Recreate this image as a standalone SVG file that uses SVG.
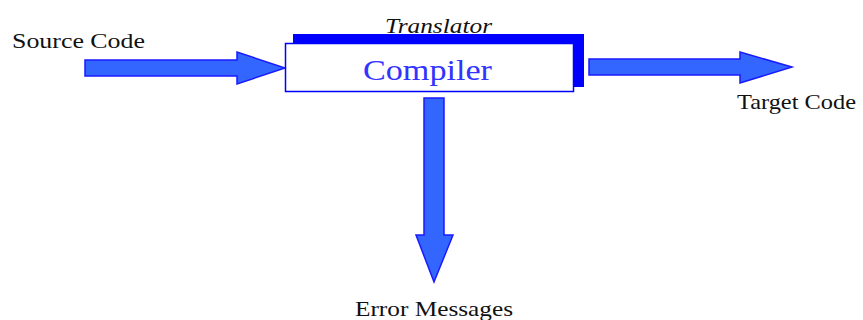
<svg xmlns="http://www.w3.org/2000/svg" width="863" height="320" viewBox="0 0 863 320">
<style>
.lbl{font-family:"Liberation Serif","Times New Roman",serif;font-size:22px;fill:#111}
.arrow{fill:#3366ff;stroke:#1a1aff;stroke-width:1.5;stroke-linejoin:miter}
</style>
<rect width="863" height="320" fill="#fff"/>
<g id="connectors">
<polygon class="arrow" points="85,60 237,60 237,52 285,68 237,84 237,76 85,76"/>
<polygon class="arrow" points="589,59 740,59 740,52 792,67 740,83 740,75 589,75"/>
<polygon class="arrow" points="424,98 444,98 444,235 453,235 434,282 416,235 424,235"/>
</g>
<g id="source">
<text class="lbl" x="12" y="48" textLength="133" lengthAdjust="spacingAndGlyphs">Source Code</text>
</g>
<g id="compiler">
<rect x="293" y="34" width="291" height="53" fill="#0000ff"/>
<rect x="285.5" y="43.5" width="288" height="48" fill="#fff" stroke="#0000ff" stroke-width="1.5"/>
<text x="385" y="33" font-family="'Liberation Serif','Times New Roman',serif" font-style="italic" font-size="21" fill="#111" textLength="107" lengthAdjust="spacingAndGlyphs">Translator</text>
<text x="363" y="80" font-family="'Liberation Serif','Times New Roman',serif" font-size="30" fill="#3333ff" textLength="129" lengthAdjust="spacingAndGlyphs">Compiler</text>
</g>
<g id="target">
<text class="lbl" x="737" y="109" textLength="119" lengthAdjust="spacingAndGlyphs">Target Code</text>
</g>
<g id="error">
<text class="lbl" x="355" y="316" textLength="158" lengthAdjust="spacingAndGlyphs">Error Messages</text>
</g>
</svg>
